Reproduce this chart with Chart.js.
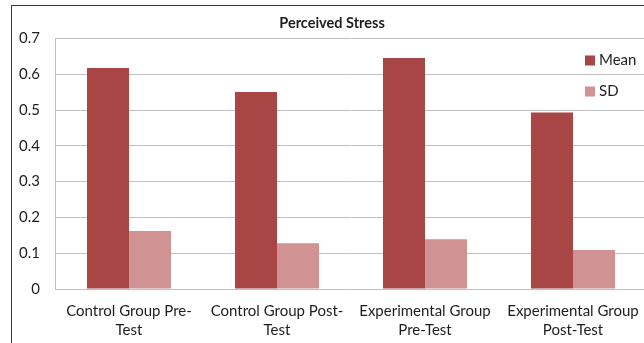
<!DOCTYPE html>
<html>
<head>
<meta charset="utf-8">
<script src="https://cdn.jsdelivr.net/npm/chart.js@4"></script>
<style>
  html, body { margin: 0; padding: 0; background: #fff; overflow: hidden; }
  #frame { position: absolute; left: 11px; top: 5px; width: 700px; height: 400px; border: 1.5px solid #3a3a3a; }
  #chart { position: absolute; left: 0; top: 0; }
</style>
</head>
<body>
<div id="frame"></div>
<canvas id="chart" width="647" height="343"></canvas>
<script>
// chart data
const categories = [
  ['Control Group Pre-', 'Test'],
  ['Control Group Post-', 'Test'],
  ['Experimental Group', 'Pre-Test'],
  ['Experimental Group', 'Post-Test']
];
const meanValues = [0.617, 0.550, 0.645, 0.493];
const sdValues = [0.162, 0.128, 0.139, 0.109];
const yTicks = [0, 0.1, 0.2, 0.3, 0.4, 0.5, 0.6, 0.7];

const font = 'Lato';
const gridColor = '#bfbfbf';

// legend drawn inside the plot, top right, like the original
const insideLegend = {
  id: 'insideLegend',
  afterDraw(chart) {
    const ctx = chart.ctx;
    ctx.save();
    ctx.font = '15px ' + font;
    ctx.textBaseline = 'middle';
    chart.data.datasets.forEach((ds, i) => {
      const y = 60.5 + i * 31;
      ctx.fillStyle = ds.backgroundColor;
      ctx.fillRect(585, y - 5, 10, 10);
      ctx.fillStyle = '#1e1e1e';
      ctx.fillText(ds.label, 599, y);
    });
    ctx.restore();
  }
};

new Chart(document.getElementById('chart'), {
  type: 'bar',
  data: {
    labels: categories,
    datasets: [
      { label: 'Mean', data: meanValues, backgroundColor: '#a84545' },
      { label: 'SD', data: sdValues, backgroundColor: '#d09292' }
    ]
  },
  options: {
    responsive: false,
    animation: false,
    layout: { padding: { left: 17, right: 0, top: 0, bottom: 0 } },
    datasets: {
      bar: { categoryPercentage: 0.568, barPercentage: 1.0, borderWidth: 0 }
    },
    plugins: {
      legend: { display: false },
      tooltip: { enabled: false },
      title: {
        display: true,
        text: 'Perceived Stress',
        color: '#1e1e1e',
        font: { family: font, size: 14.5, weight: 'bold', lineHeight: 1.2 },
        padding: { top: 15, bottom: 6 }
      }
    },
    scales: {
      x: {
        grid: { display: false },
        border: { display: true, color: gridColor, width: 1 },
        ticks: {
          color: '#1e1e1e',
          font: { family: font, size: 15, lineHeight: 1.27 },
          padding: 5,
          maxRotation: 0,
          autoSkip: false
        },
        afterFit(scale) { scale.height = 54; }
      },
      y: {
        min: 0,
        max: 0.7,
        afterBuildTicks(scale) { scale.ticks = yTicks.map(v => ({ value: v })); },
        grid: { color: gridColor, drawTicks: false, lineWidth: 1 },
        border: { display: true, color: gridColor, width: 1 },
        ticks: {
          color: '#1e1e1e',
          font: { family: font, size: 15 },
          padding: 15,
          callback: v => String(+v.toFixed(1))
        },
        afterFit(scale) { scale.width = 38; }
      }
    }
  },
  plugins: [insideLegend]
});
</script>
</body>
</html>
